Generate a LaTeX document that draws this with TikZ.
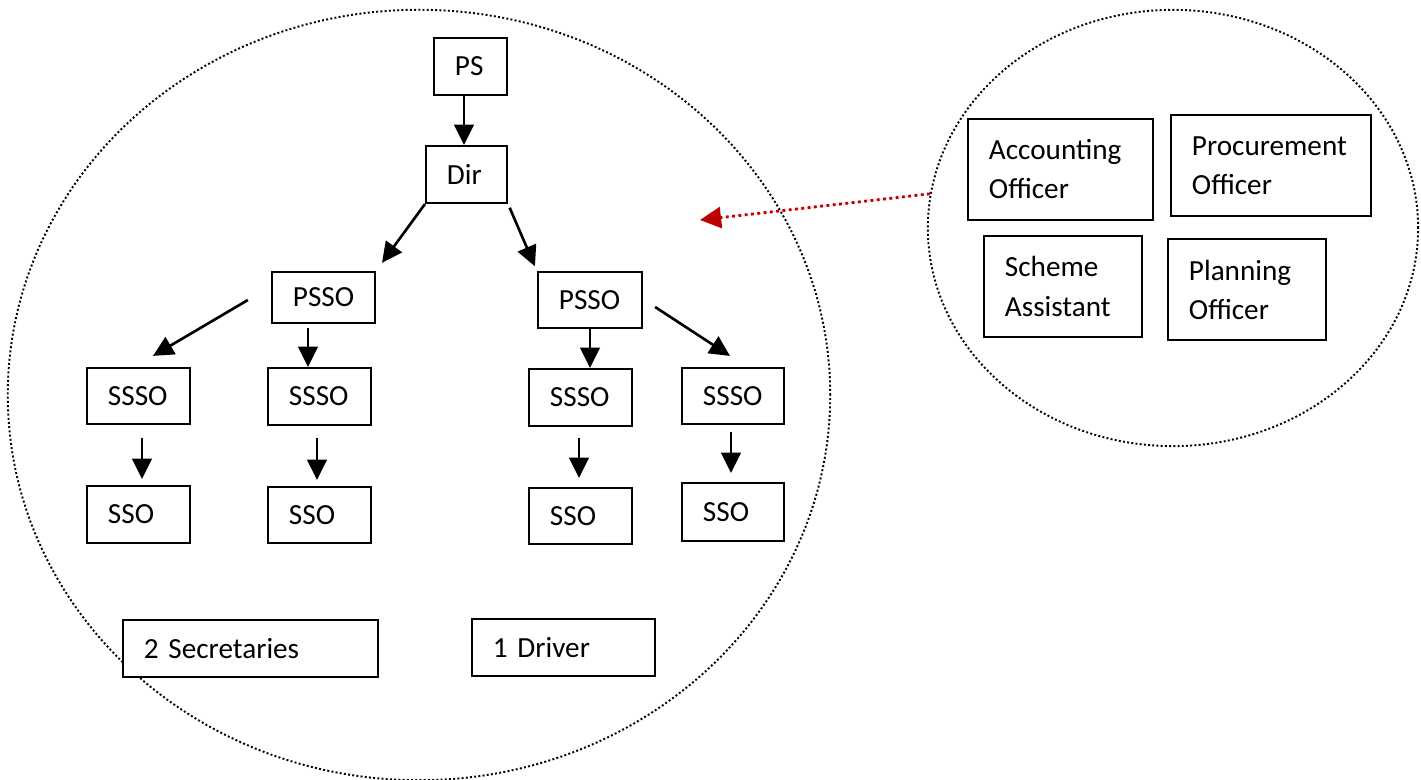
\documentclass[tikz,border=0pt]{standalone}
\usepackage{fontspec}
\setmainfont{Carlito}
\usepackage{tikz}
\usetikzlibrary{arrows.meta, shapes.geometric}

\tikzset{
  box/.style={draw, fill=white, line width=0.6pt, align=left, inner xsep=0.21cm, inner ysep=0pt},
  arr/.style={line width=0.75pt, -{Triangle[length=5.8pt, width=5.6pt]}},
  dotline/.style={line width=0.55pt, dash pattern=on 0.55pt off 0.65pt},
  redarr/.style={draw=red!75!black, line width=0.8pt, dash pattern=on 0.8pt off 1.0pt,
    -{Triangle[length=6pt, width=6pt]}, fill=red!75!black}
}

\begin{document}
\begin{tikzpicture}[x=0.01cm, y=-0.01cm, font=\fontsize{8.3}{11.1}\selectfont]

\useasboundingbox (0,0) rectangle (1421,780);

\node[ellipse, dotline, draw, inner sep=0pt, minimum width=8.22cm, minimum height=7.70cm] (grp) at (419,395) {};
\node[ellipse, dotline, draw, inner sep=0pt, minimum width=4.90cm, minimum height=4.36cm] (side) at (1173,228) {};

\node[box, text width=0.31cm, minimum height=0.57cm] (ps) at (470.5,66.5) {PS};
\node[box, text width=0.39cm, minimum height=0.57cm] (dir) at (466.5,174.5) {Dir};

\node[box, text width=0.61cm, minimum height=0.51cm] (psso1) at (323.5,297.5) {PSSO};
\node[box, text width=0.62cm, minimum height=0.56cm] (psso2) at (590,300) {PSSO};

\node[box, text width=0.61cm, minimum height=0.56cm] (ssso1) at (138.5,396) {SSSO};
\node[box, text width=0.61cm, minimum height=0.57cm] (ssso2) at (319.5,396.5) {SSSO};
\node[box, text width=0.61cm, minimum height=0.57cm] (ssso3) at (580.5,397.5) {SSSO};
\node[box, text width=0.60cm, minimum height=0.56cm] (ssso4) at (733,396) {SSSO};

\node[box, text width=0.61cm, minimum height=0.57cm] (sso1) at (138.5,514.5) {SSO};
\node[box, text width=0.61cm, minimum height=0.56cm] (sso2) at (319.5,515) {SSO};
\node[box, text width=0.61cm, minimum height=0.56cm] (sso3) at (580.5,516) {SSO};
\node[box, text width=0.60cm, minimum height=0.58cm] (sso4) at (733,512) {SSO};

\node[box, text width=2.13cm, minimum height=0.57cm] (secr) at (250.5,648.5) {2 Secretaries};
\node[box, text width=1.41cm, minimum height=0.57cm] (driver) at (563.5,647.5) {1 Driver};

\node[box, text width=1.43cm, minimum height=1.01cm] (acct) at (1060.5,169.5) {Accounting\\Officer};
\node[box, text width=1.58cm, minimum height=1.01cm] (proc) at (1271,165.5) {Procurement\\Officer};
\node[box, text width=1.16cm, minimum height=1.01cm] (scheme) at (1063,286.5) {Scheme\\Assistant};
\node[box, text width=1.16cm, minimum height=1.01cm] (plan) at (1247,289.5) {Planning\\Officer};

\draw[arr] ([xshift=-0.065cm]ps.south) -- ([xshift=-0.065cm]ps.south |- dir.north);
\draw[arr, shorten >=0.1cm] (dir.south west) -- (psso1.north east);
\draw[arr, shorten <=0.04cm, shorten >=0.05cm] (dir.south east) -- (psso2.north west);

\draw[arr] ([xshift=-0.23cm, yshift=-0.025cm]psso1.west) -- ([xshift=0.145cm, yshift=0.11cm]ssso1.north);
\draw[arr] ([xshift=-0.155cm, yshift=-0.04cm]psso1.south) -- ([xshift=-0.155cm]psso1.south |- ssso2.north);
\draw[arr] (psso2.south) -- (psso2.south |- ssso3.north);
\draw[arr] ([xshift=0.12cm, yshift=-0.07cm]psso2.east) -- ([xshift=-0.03cm, yshift=0.11cm]ssso4.north);

\draw[arr, shorten <=0.13cm, shorten >=0.06cm] ([xshift=0.035cm]ssso1.south) -- ([xshift=0.035cm]sso1.north);
\draw[arr, shorten <=0.12cm, shorten >=0.06cm] ([xshift=-0.025cm]ssso2.south) -- ([xshift=-0.025cm]sso2.north);
\draw[arr, shorten <=0.11cm, shorten >=0.09cm] ([xshift=-0.015cm]ssso3.south) -- ([xshift=-0.015cm]sso3.north);
\draw[arr, shorten <=0.07cm, shorten >=0.09cm] ([xshift=-0.02cm]ssso4.south) -- ([xshift=-0.02cm]sso4.north);

\coordinate (redtip) at (700,220);
\draw[redarr] (side.172) -- (redtip);

\end{tikzpicture}
\end{document}
